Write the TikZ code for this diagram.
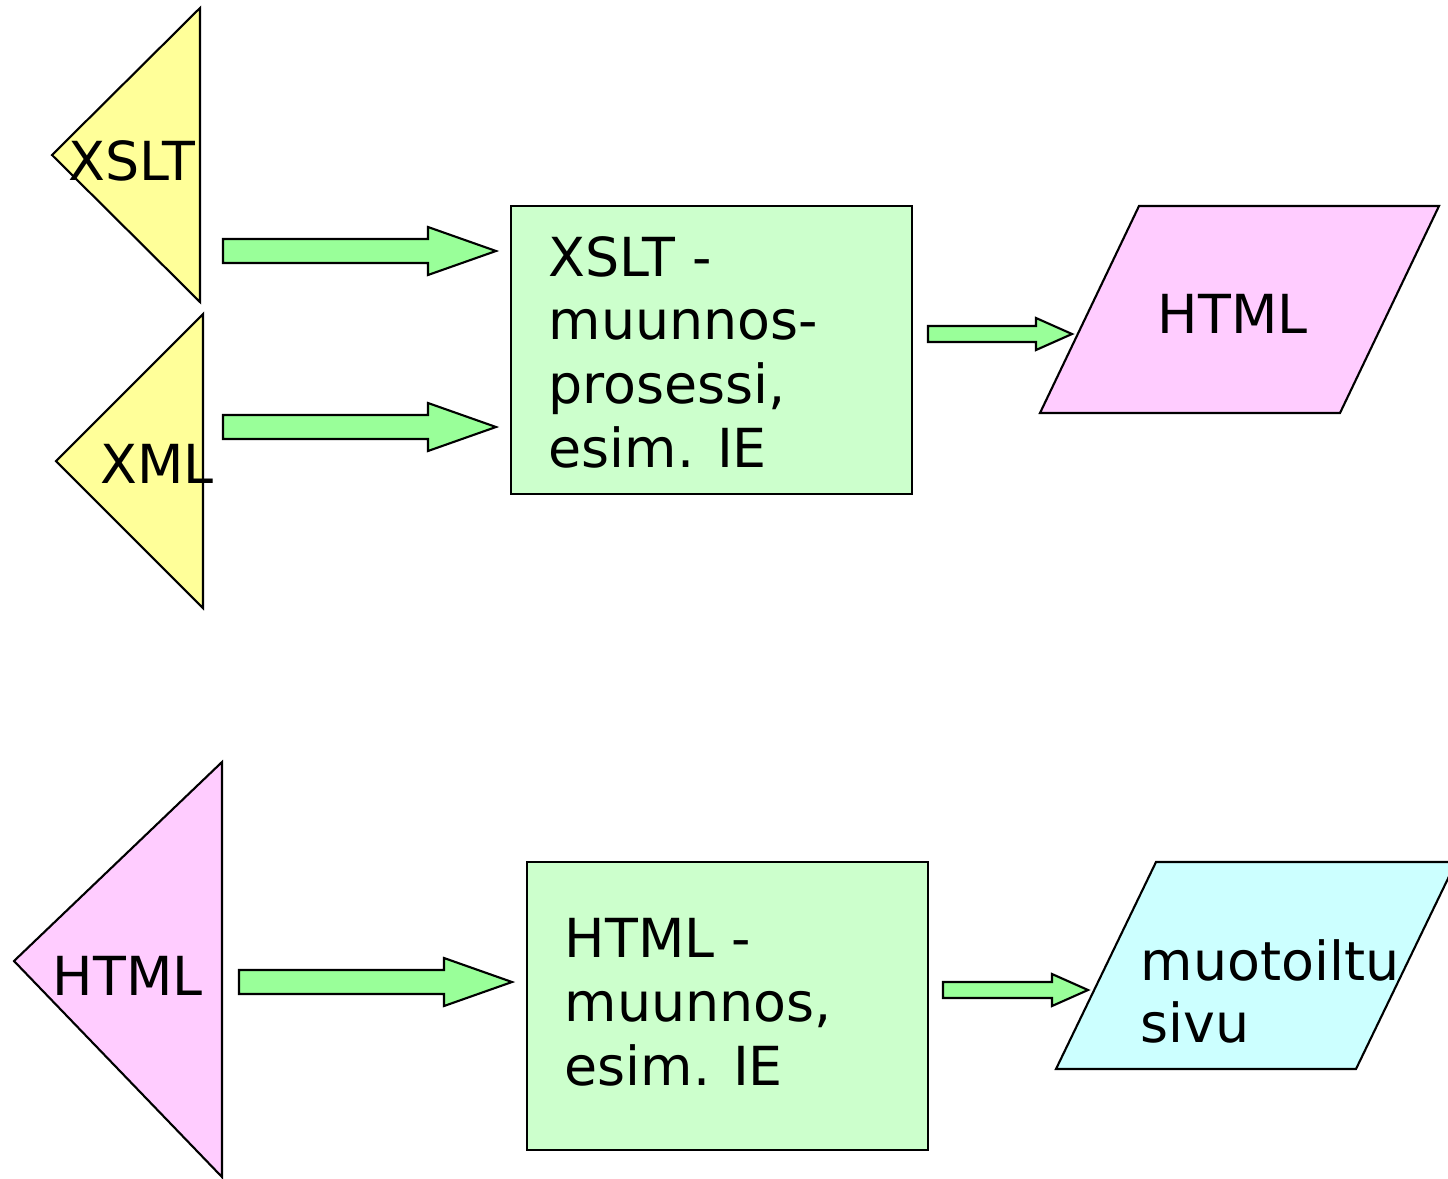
\documentclass[tikz,border=0pt]{standalone}
\usepackage{fontspec}
\setmainfont{DejaVu Sans}
\begin{document}
\begin{tikzpicture}[x=0.01cm,y=-0.01cm,
  outline/.style={draw=black,line width=0.6pt,line join=miter},
  doc/.style={outline,fill=#1},
  proc/.style={outline,fill=procgreen},
  flow/.style={outline,fill=arrowgreen},
  lbl/.style={inner sep=0pt,anchor=base west,align=left,
    font=\fontsize{15.3}{18.1}\selectfont}]
\definecolor{docyellow}{HTML}{FFFF99}
\definecolor{docpink}{HTML}{FFCCFF}
\definecolor{doccyan}{HTML}{CCFFFF}
\definecolor{procgreen}{HTML}{CCFFCC}
\definecolor{arrowgreen}{HTML}{99FF99}
\useasboundingbox (0,0) rectangle (1448,1178);
\clip (0,0) rectangle (1448,1178);

% block arrow: #1 start x, #2 head start x, #3 tip x, #4 centre y, #5 half body, #6 half head
\newcommand\blockarrow[6]{%
  \draw[flow] (#1,#4-#5) -- (#2,#4-#5) -- (#2,#4-#6) -- (#3,#4)
    -- (#2,#4+#6) -- (#2,#4+#5) -- (#1,#4+#5) -- cycle;}

% upper chain: XSLT + XML -> transformation -> HTML
\draw[doc=docyellow] (200,8) -- (200,302) -- (52,155) -- cycle;
\node[lbl] (xslt) at (68,180) {XSLT};
\draw[doc=docyellow] (203,314) -- (203,608) -- (56,461) -- cycle;
\node[lbl] (xml) at (100,483) {XML};

\draw[proc] (511,206) rectangle (912,494);
% multi-line labels are anchored at the baseline of their last line
\node[lbl] (proc1) at (548,467) {XSLT -\\muunnos-\\prosessi,\\esim. IE};

\draw[doc=docpink] (1139,206) -- (1439,206) -- (1340,413) -- (1040,413) -- cycle;
\node[lbl] (html1) at (1157,333) {HTML};

\blockarrow{223}{428}{496}{251}{12}{24}
\blockarrow{223}{428}{496}{427}{12}{24}
\blockarrow{928}{1036}{1072}{334}{8}{16}

% lower chain: HTML -> transformation -> formatted page
\draw[doc=docpink] (222,762) -- (222,1177) -- (14,961) -- cycle;
\node[lbl] (html2) at (52,995) {HTML};

\draw[proc] (527,862) rectangle (928,1150);
\node[lbl] (proc2) at (564,1085) {HTML -\\muunnos,\\esim. IE};

\draw[doc=doccyan] (1156,862) -- (1456,862) -- (1356,1069) -- (1056,1069) -- cycle;
\node[lbl] (page) at (1140,1042) {muotoiltu\\[-0.5pt]sivu};

\blockarrow{239}{444}{512}{982}{12}{24}
\blockarrow{943}{1052}{1088}{990}{8}{16}
\end{tikzpicture}
\end{document}
